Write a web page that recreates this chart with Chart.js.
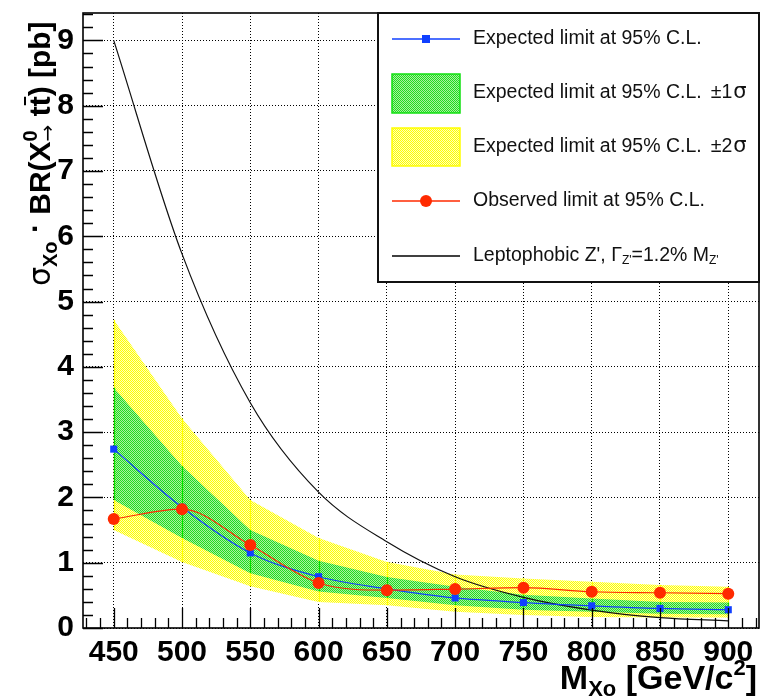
<!DOCTYPE html>
<html>
<head>
<meta charset="utf-8">
<script src="https://cdn.jsdelivr.net/npm/chart.js@4.4.1/dist/chart.umd.min.js"></script>
<style>
  html, body { margin: 0; padding: 0; background: #fff; }
  #wrap { width: 765px; height: 697px; }
</style>
</head>
<body>
<div id="wrap"><canvas id="c" width="765" height="697"></canvas></div>
<script>
// Resonance mass points (GeV/c^2)
const masses = [450, 500, 550, 600, 650, 700, 750, 800, 850, 900];
// Cross section x branching ratio limits (pb)
const expected     = [2.74, 1.85, 1.15, 0.785, 0.60, 0.46, 0.39, 0.34, 0.30, 0.28];
const observed     = [1.67, 1.82, 1.27, 0.69, 0.58, 0.596, 0.617, 0.555, 0.54, 0.525];
const oneSigmaUp   = [3.68, 2.48, 1.50, 1.03, 0.78, 0.63, 0.51, 0.45, 0.40, 0.39];
const oneSigmaDown = [1.96, 1.38, 0.84, 0.56, 0.46, 0.35, 0.28, 0.25, 0.22, 0.21];
const twoSigmaUp   = [4.72, 3.21, 1.96, 1.38, 1.01, 0.82, 0.76, 0.71, 0.66, 0.63];
const twoSigmaDown = [1.50, 1.01, 0.64, 0.40, 0.35, 0.25, 0.20, 0.17, 0.16, 0.16];
// Leptophobic Z' theory curve (pb)
const zprime       = [9.0, 5.73, 3.45, 2.08, 1.32, 0.785, 0.47, 0.275, 0.16, 0.11];
// Axis tick labels
const xTickValues = [450, 500, 550, 600, 650, 700, 750, 800, 850, 900];
const yTickValues = [0, 1, 2, 3, 4, 5, 6, 7, 8, 9];

const X_MIN = 427.5, X_MAX = 922.5, Y_MIN = 0, Y_MAX = 9.42;

const pts = vals => masses.map((m, i) => ({ x: m, y: vals[i] }));

// Dithered fill patterns for the uncertainty bands
function checker(a, b) {
  const c = document.createElement('canvas');
  c.width = 2; c.height = 2;
  const g = c.getContext('2d');
  g.fillStyle = b; g.fillRect(0, 0, 2, 2);
  g.fillStyle = a; g.fillRect(0, 0, 1, 1); g.fillRect(1, 1, 1, 1);
  return g.createPattern(c, 'repeat');
}
const yellowFill = checker('#ffff00', '#ffffb8');
const greenFill  = checker('#20dd20', '#a8f0a0');

const BLUE = '#1040ff', RED = '#ff2a00';
const TICK_FAMILY = "'Liberation Sans', Arial, sans-serif";

// Draws a run of text pieces with individual fonts and vertical shifts
function drawRich(ctx, x, y, parts, measureOnly) {
  let cx = x, lastStart = x, lastW = 0;
  for (const p of parts) {
    ctx.font = p.font;
    const w = ctx.measureText(p.text).width;
    let start = cx + (p.gap || 0);
    if (p.stack) start = lastStart;
    if (!measureOnly) ctx.fillText(p.text, start, y + (p.dy || 0));
    if (p.bar && !measureOnly) {
      ctx.save();
      ctx.lineWidth = 2;
      ctx.strokeStyle = ctx.fillStyle;
      ctx.beginPath();
      ctx.moveTo(start + w * 0.1, y + p.bar);
      ctx.lineTo(start + w * 0.95, y + p.bar);
      ctx.stroke();
      ctx.restore();
    }
    if (p.stack) {
      cx = lastStart + Math.max(lastW, w);
      lastW = Math.max(lastW, w);
    } else {
      lastStart = start; lastW = w;
      cx = start + w;
    }
  }
  return cx - x;
}

// Thin vertical edges of the band polygons at each mass point
const bandEdges = {
  id: 'bandEdges',
  afterDatasetDraw(chart, args) {
    if (args.index !== 2) return;
    const ctx = chart.ctx, xs = chart.scales.x, ys = chart.scales.y;
    const a = chart.chartArea;
    ctx.save();
    ctx.beginPath();
    ctx.rect(a.left, a.top, a.right - a.left, a.bottom - a.top);
    ctx.clip();
    ctx.lineWidth = 1.2;
    masses.forEach((m, i) => {
      const px = Math.round(xs.getPixelForValue(m)) + 0.5;
      ctx.strokeStyle = '#ffff00';
      ctx.beginPath();
      ctx.moveTo(px, ys.getPixelForValue(twoSigmaUp[i]));
      ctx.lineTo(px, ys.getPixelForValue(twoSigmaDown[i]));
      ctx.stroke();
      ctx.strokeStyle = '#00e000';
      ctx.beginPath();
      ctx.moveTo(px, ys.getPixelForValue(oneSigmaUp[i]));
      ctx.lineTo(px, ys.getPixelForValue(oneSigmaDown[i]));
      ctx.stroke();
    });
    ctx.restore();
  }
};

const framePlugin = {
  id: 'frameAndLegend',
  afterDraw(chart) {
    const ctx = chart.ctx;
    const a = chart.chartArea;
    const xs = chart.scales.x, ys = chart.scales.y;
    ctx.save();
    ctx.strokeStyle = '#000';
    ctx.fillStyle = '#000';

    // inward tick marks
    ctx.lineWidth = 1.3;
    ctx.beginPath();
    for (let v = 430; v <= 920; v += 10) {
      const px = Math.round(xs.getPixelForValue(v)) + 0.5;
      const len = (v % 50 === 0) ? 20 : 10;
      ctx.moveTo(px, a.bottom);
      ctx.lineTo(px, a.bottom - len);
    }
    for (let k = 0; k <= 47; k++) {
      const vv = k / 5;
      if (vv > Y_MAX) break;
      const py = Math.round(ys.getPixelForValue(vv)) + 0.5;
      const len = (k % 5 === 0) ? 20 : 10;
      ctx.moveTo(a.left, py);
      ctx.lineTo(a.left + len, py);
    }
    ctx.stroke();

    // frame
    ctx.lineWidth = 1.6;
    ctx.strokeRect(a.left, a.top, a.right - a.left, a.bottom - a.top);

    // legend box
    const L = { x: 378, y: 13, w: 381, h: 269 };
    ctx.fillStyle = '#fff';
    ctx.fillRect(L.x, L.y, L.w, L.h);
    ctx.lineWidth = 2;
    ctx.strokeStyle = '#111';
    ctx.strokeRect(L.x, L.y, L.w, L.h);

    const sx0 = 392, sx1 = 460, tx = 473;
    const f = "19.5px 'Liberation Sans', Arial, sans-serif";
    const fSym = "21px 'DejaVu Sans', 'Liberation Sans', sans-serif";
    const fSub = "12px 'Liberation Sans', Arial, sans-serif";
    ctx.textBaseline = 'middle';
    ctx.textAlign = 'left';

    // expected
    ctx.strokeStyle = BLUE; ctx.lineWidth = 1.3;
    ctx.beginPath(); ctx.moveTo(sx0, 39); ctx.lineTo(sx1, 39); ctx.stroke();
    ctx.fillStyle = BLUE; ctx.fillRect(422, 35, 8, 8);
    ctx.fillStyle = '#111'; ctx.font = f;
    ctx.fillText('Expected limit at 95% C.L.', tx, 39);

    // +-1 sigma
    ctx.fillStyle = greenFill; ctx.fillRect(sx0, 74, sx1 - sx0, 39);
    ctx.strokeStyle = '#10e010'; ctx.lineWidth = 1.5;
    ctx.strokeRect(sx0, 74, sx1 - sx0, 39);
    ctx.fillStyle = '#111';
    drawRich(ctx, tx, 93, [
      { text: 'Expected limit at 95% C.L.', font: f },
      { text: '\u00b11', font: f, gap: 9 },
      { text: '\u03c3', font: fSym, gap: 1 }
    ]);

    // +-2 sigma
    ctx.fillStyle = yellowFill; ctx.fillRect(sx0, 128, sx1 - sx0, 38);
    ctx.strokeStyle = '#ffff00'; ctx.lineWidth = 1.5;
    ctx.strokeRect(sx0, 128, sx1 - sx0, 38);
    ctx.fillStyle = '#111';
    drawRich(ctx, tx, 147, [
      { text: 'Expected limit at 95% C.L.', font: f },
      { text: '\u00b12', font: f, gap: 9 },
      { text: '\u03c3', font: fSym, gap: 1 }
    ]);

    // observed
    ctx.strokeStyle = RED; ctx.lineWidth = 1.3;
    ctx.beginPath(); ctx.moveTo(sx0, 201); ctx.lineTo(sx1, 201); ctx.stroke();
    ctx.fillStyle = RED;
    ctx.beginPath(); ctx.arc(426, 201, 6, 0, Math.PI * 2); ctx.fill();
    ctx.fillStyle = '#111';
    ctx.font = f;
    ctx.fillText('Observed limit at 95% C.L.', tx, 201);

    // Z' theory
    ctx.strokeStyle = '#000'; ctx.lineWidth = 1.3;
    ctx.beginPath(); ctx.moveTo(sx0, 256); ctx.lineTo(sx1, 256); ctx.stroke();
    ctx.fillStyle = '#111';
    drawRich(ctx, tx, 256, [
      { text: "Leptophobic Z', \u0393", font: f },
      { text: "Z'", font: fSub, dy: 5 },
      { text: '=1.2% M', font: f },
      { text: "Z'", font: fSub, dy: 5 }
    ]);

    // x axis title
    ctx.fillStyle = '#000';
    ctx.textBaseline = 'alphabetic';
    const xb = "bold 34px 'Liberation Sans', Arial, sans-serif";
    const xs2 = "bold 22px 'Liberation Sans', Arial, sans-serif";
    const xParts = [
      { text: 'M', font: xb },
      { text: 'Xo', font: xs2, dy: 7 },
      { text: ' [GeV/c', font: xb },
      { text: '2', font: xs2, dy: -14 },
      { text: ']', font: xb }
    ];
    const xw = drawRich(ctx, 0, 0, xParts, true);
    drawRich(ctx, 757 - xw, 689, xParts);

    // y axis title (rotated)
    ctx.save();
    ctx.translate(50, 286);
    ctx.rotate(-Math.PI / 2);
    const yb = "bold 30px 'Liberation Sans', Arial, sans-serif";
    const yr = "30px 'DejaVu Sans', 'Liberation Sans', sans-serif";
    const ys2 = "bold 20px 'Liberation Sans', Arial, sans-serif";
    drawRich(ctx, 0, 0, [
      { text: '\u03c3', font: yr },
      { text: 'Xo', font: ys2, dy: 7 },
      { text: ' \u00b7 ', font: yb, dy: -5 },
      { text: 'BR(X', font: yb },
      { text: '0', font: ys2, dy: -13 },
      { text: '\u2192', font: "20px 'DejaVu Sans', sans-serif", dy: 4, stack: true },
      { text: ' t', font: yb },
      { text: 't', font: yb, bar: -25 },
      { text: ') [pb]', font: yb }
    ]);
    ctx.restore();

    ctx.restore();
  }
};

const lineBase = { pointRadius: 0, borderWidth: 0, tension: 0 };

new Chart(document.getElementById('c'), {
  type: 'line',
  data: {
    datasets: [
      { label: '2sigma up', data: pts(twoSigmaUp), fill: '+1', backgroundColor: yellowFill, order: 6, ...lineBase },
      { label: '2sigma down', data: pts(twoSigmaDown), fill: false, order: 6, ...lineBase },
      { label: '1sigma up', data: pts(oneSigmaUp), fill: '+1', backgroundColor: greenFill, order: 5, ...lineBase },
      { label: '1sigma down', data: pts(oneSigmaDown), fill: false, order: 5, ...lineBase },
      { label: "Leptophobic Z'", data: pts(zprime), borderColor: '#111', borderWidth: 1.2,
        pointRadius: 0, cubicInterpolationMode: 'monotone', fill: false, order: 3 },
      { label: 'Expected limit at 95% C.L.', data: pts(expected), borderColor: BLUE, borderWidth: 1.2,
        pointStyle: 'rect', pointRadius: 5, pointBackgroundColor: BLUE, pointBorderWidth: 0,
        cubicInterpolationMode: 'monotone', fill: false, order: 2 },
      { label: 'Observed limit at 95% C.L.', data: pts(observed), borderColor: RED, borderWidth: 1.2,
        pointStyle: 'circle', pointRadius: 6, pointBackgroundColor: RED, pointBorderWidth: 0,
        cubicInterpolationMode: 'monotone', fill: false, order: 1 }
    ]
  },
  options: {
    responsive: false,
    animation: false,
    devicePixelRatio: 1,
    layout: { padding: { top: 13, right: 6, left: 0, bottom: 0 } },
    plugins: { legend: { display: false }, tooltip: { enabled: false } },
    scales: {
      x: {
        type: 'linear', min: X_MIN, max: X_MAX, z: 1,
        afterBuildTicks: s => { s.ticks = xTickValues.map(v => ({ value: v })); },
        afterFit: s => { s.height = 69; s.paddingLeft = 0; s.paddingRight = 0; },
        grid: { color: '#000', lineWidth: 1, drawTicks: false },
        border: { display: false, dash: [1, 2] },
        ticks: { color: '#000', font: { family: TICK_FAMILY, size: 30, weight: 'bold' }, padding: 7, maxRotation: 0, autoSkip: false }
      },
      y: {
        type: 'linear', min: Y_MIN, max: Y_MAX, z: 1,
        afterBuildTicks: s => { s.ticks = yTickValues.map(v => ({ value: v })); },
        afterFit: s => { s.width = 83; s.paddingTop = 0; s.paddingBottom = 0; },
        grid: { color: '#000', lineWidth: 1, drawTicks: false },
        border: { display: false, dash: [1, 2] },
        ticks: { color: '#000', font: { family: TICK_FAMILY, size: 30, weight: 'bold' }, padding: 9, autoSkip: false }
      }
    }
  },
  plugins: [bandEdges, framePlugin]
});
</script>
</body>
</html>
